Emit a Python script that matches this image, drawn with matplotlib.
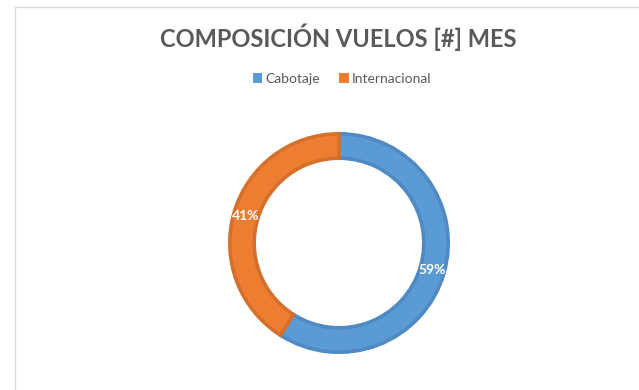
import numpy as np
import matplotlib
matplotlib.use('Agg')
from matplotlib import pyplot as plt
from matplotlib.patches import Rectangle

title = 'COMPOSICIÓN VUELOS [#] MES'
categories = ['Cabotaje', 'Internacional']
shares = [59, 41]
fills = ['#5B9BD5', '#ED7D31']
edges = ['#4F8AC2', '#D4702C']

plt.rcParams['font.family'] = ['Lato', 'DejaVu Sans']

fig = plt.figure(figsize=(6.39, 3.90), dpi=100)
W, H = 639, 390

# chart frame, open on the right and bottom
fig.patches.append(Rectangle((15 / W, -0.1), 1.2, (390 - 7) / H + 0.1,
                             transform=fig.transFigure, fill=False,
                             edgecolor='#D9D9D9', linewidth=1.0))

cx, cy, r = 339, 243, 111
ax = fig.add_axes([(cx - r) / W, (H - cy - r) / H, 2 * r / W, 2 * r / H])

rad = 0.984
ring = 0.22
wedges, _ = ax.pie(shares, colors=fills, startangle=90, counterclock=False,
                   radius=rad, wedgeprops=dict(width=ring, linewidth=2.6))
for w, ec in zip(wedges, edges):
    w.set_edgecolor(ec)
ax.set_xlim(-1, 1)
ax.set_ylim(-1, 1)
ax.axis('off')

# percentage labels at the middle of each ring segment
total = sum(shares)
start = 0.0
for v in shares:
    mid = (start + v / 2) / total * 2 * np.pi
    rm = rad - ring / 2
    ax.text(rm * np.sin(mid), rm * np.cos(mid), f'{v}%', color='white',
            fontsize=10, fontweight='bold', ha='center', va='center')
    start += v

fig.text(338 / W, 1 - 37 / H, title, ha='center', va='center',
         fontsize=17, fontweight='bold', color='#595959')

handles = [Rectangle((0, 0), 1, 1, facecolor=c) for c in fills]
fig.legend(handles, categories, loc='center', bbox_to_anchor=(342 / W, 1 - 79 / H),
           ncol=2, frameon=False, fontsize=10, labelcolor='#595959',
           handlelength=0.7, handleheight=0.7, handletextpad=0.2,
           columnspacing=1.4)

fig.savefig('out.png', dpi=100, facecolor='white')
